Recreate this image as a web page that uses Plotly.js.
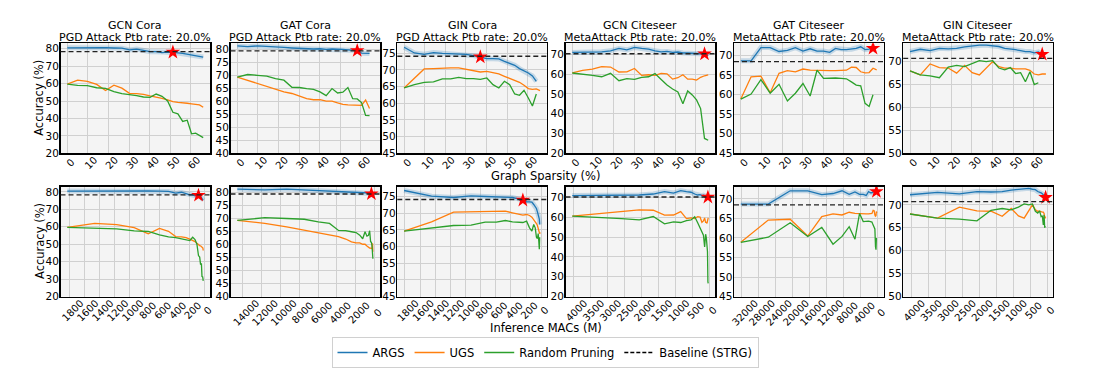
<!DOCTYPE html>
<html>
<head>
<meta charset="utf-8">
<script src="https://cdn.plot.ly/plotly-3.0.1.min.js"></script>
<style>html,body{margin:0;padding:0;background:#fff}#chart{width:1107px;height:372px}</style>
</head>
<body>
<div id="chart"></div>
<script>
// ---------------- data ----------------
const sparsity = [0,5,9.75,14.26,18.55,22.62,26.49,30.17,33.66,36.98,40.13,43.12,45.96,48.67,51.23,53.67,55.99,58.19,60.28,62.26,64.15,65.94];

const macsGcnCora = [1830,1464,1171,937,750,600,480,384,307,246,196,157,126,101,80,64,52,41,33,26,21,17];
const macsGatCora = [14600,11680,9344,7475,5980,4784,3827,3062,2449,1960,1568,1254,1003,803,642,514,411,329,263,210,168,135];
const macsGinCora = [1810,1448,1158,927,741,593,474,380,304,243,194,155,124,100,80,64,51,41,33,26,21,17];
const macsGcnCiteseer = [4030,3224,2579,2063,1651,1321,1056,845,676,541,433,346,277,222,177,142,113,91,73,58,46,37];
const macsGatCiteseer = [32200,25760,20608,16486,13189,10551,8441,6753,5402,4322,3457,2766,2213,1770,1416,1133,906,725,580,464,371,297];
const macsGinCiteseer = [4030,3224,2579,2063,1651,1321,1056,845,676,541,433,346,277,222,177,142,113,91,73,58,46,37];

const argsGcnCora = [80.5,80.6,80.3,80.6,80.6,80.4,80.3,79.3,79.8,79.0,78.3,78.3,77.8,78.0,78.0,77.6,77.3,76.8,76.5,76.2,75.8,75.2];
const ugsGcnCora  = [59.7,62.0,61.2,59.5,56.0,59.1,57.4,54.4,54.2,53.8,52.9,52.3,51.5,50.6,49.6,49.2,49.1,48.7,48.4,48.3,47.8,46.4];
const rpGcnCora   = [59.7,59.0,58.8,57.6,57.3,55.4,54.2,53.8,53.1,52.3,52.1,54.0,52.7,50.0,43.5,42.6,38.3,39.0,31.2,31.6,30.5,29.0];

const argsGatCora = [81.3,81.0,81.3,81.0,80.9,80.7,80.5,80.3,80.2,80.1,80.2,80.0,80.1,80.1,80.0,79.8,79.6,79.5,78.5,78.4,78.4];
const ugsGatCora  = [69.3,68.1,66.8,65.6,64.6,63.6,63.0,62.1,61.0,60.6,60.6,60.1,60.1,59.4,58.8,58.6,58.6,58.5,58.4,60.5,57.2];
const rpGatCora   = [69.3,70.3,70.0,69.7,68.7,68.1,65.4,65.3,64.9,64.6,63.6,62.2,64.9,63.2,63.5,65.3,61.0,60.9,59.5,54.6,54.5];

const argsGinCora = [76.8,75.1,74.7,75.2,75.0,74.9,74.6,74.7,74.3,73.9,73.4,73.4,73.3,72.6,72.0,71.4,70.4,69.7,69.1,68.2,66.6];
const ugsGinCora  = [64.6,67.4,70.3,70.4,70.6,70.6,70.6,70.1,69.8,69.4,69.6,69.3,68.8,68.1,67.5,66.9,66.3,65.4,64.4,64.2,64.3,63.8];
const rpGinCora   = [64.6,65.6,66.3,66.4,67.3,67.3,67.8,67.4,67.4,67.2,67.6,65.6,64.6,66.6,65.6,62.8,62.4,63.9,61.6,59.2,62.8];

const argsGcnCiteseer = [71.0,71.0,71.2,71.3,71.8,73.0,72.3,73.5,73.0,72.7,71.8,71.3,71.5,71.0,71.2,70.7,70.7,70.5,70.5,70.2,70.2,69.3];
const ugsGcnCiteseer  = [60.6,61.9,62.6,63.8,63.6,61.1,61.2,62.9,59.4,59.7,59.4,60.4,60.2,57.5,58.2,59.7,57.5,57.5,57.0,58.4,59.2,59.7];
const rpGcnCiteseer   = [60.6,60.1,59.4,58.7,60.4,56.7,57.7,57.4,58.4,58.7,60.3,57.3,54.5,52.5,51.0,45.0,51.5,49.5,47.0,42.6,27.5,26.6];

const argsGatCiteseer = [68.7,68.7,72.1,72.1,71.1,71.4,72.1,71.2,71.8,71.2,71.2,70.9,71.9,71.6,71.6,71.7,71.9,72.3,71.6,71.7,71.9];
const ugsGatCiteseer  = [58.9,64.6,64.8,60.5,65.5,66.2,65.9,66.6,66.3,66.2,66.2,66.2,66.2,66.2,66.3,67.1,67.0,65.9,65.6,65.7,66.8,66.4];
const rpGatCiteseer   = [58.9,60.2,63.9,60.4,62.7,58.4,60.4,62.9,59.7,66.3,64.2,64.3,64.3,64.2,64.1,63.3,62.5,62.3,57.8,57.0,60.0];

const argsGinCiteseer = [72.2,72.7,72.4,72.9,72.8,72.9,73.2,73.4,73.6,73.6,73.4,73.3,72.9,72.8,72.6,72.4,72.2,72.2,71.9,72.1,71.6];
const ugsGinCiteseer  = [68.0,67.1,69.5,68.7,68.6,67.5,69.2,67.6,67.1,68.6,70.0,68.9,68.6,68.6,68.4,68.4,68.4,68.1,67.3,67.1,67.3,67.3];
const rpGinCiteseer   = [68.0,67.1,66.9,66.5,68.8,69.2,68.9,69.5,70.2,70.0,70.2,68.6,68.2,68.7,67.4,67.6,65.6,67.8,65.0,65.4];

const baselines = [78.3, 79.4, 74.1, 70.3, 68.5, 70.7];
const starIndex = [14, 17, 9, 20, 20, 20];
const modelNames = ["GCN Cora","GAT Cora","GIN Cora","GCN Citeseer","GAT Citeseer","GIN Citeseer"];
const attackNames = ["PGD Attack Ptb rate: 20.0%","PGD Attack Ptb rate: 20.0%","PGD Attack Ptb rate: 20.0%","MetaAttack Ptb rate: 20.0%","MetaAttack Ptb rate: 20.0%","MetaAttack Ptb rate: 20.0%"];
const yRanges = [[20,83.1],[40,82.3],[45,78],[20,75.6],[45,73.2],[50,74]];
const yDticks = [10,5,5,10,5,5];
const macsDticks = [200,2000,200,500,4000,500];
const sparsityTicks = [0,10,20,30,40,50,60];
const seriesNames = ["ARGS","UGS","Random Pruning","Baseline (STRG)"];

const macsList = [macsGcnCora,macsGatCora,macsGinCora,macsGcnCiteseer,macsGatCiteseer,macsGinCiteseer];
const argsList = [argsGcnCora,argsGatCora,argsGinCora,argsGcnCiteseer,argsGatCiteseer,argsGinCiteseer];
const ugsList  = [ugsGcnCora,ugsGatCora,ugsGinCora,ugsGcnCiteseer,ugsGatCiteseer,ugsGinCiteseer];
const rpList   = [rpGcnCora,rpGatCora,rpGinCora,rpGcnCiteseer,rpGatCiteseer,rpGinCiteseer];

// ---------------- styling / layout ----------------
const W = 1107, H = 372;
const colLeft = [60.5, 230.5, 397.3, 565.5, 734.0, 903.2];
const colW = 149.5;
const rowTop = [43.3, 186.5];
const rowH = 110;
const FONT = "DejaVu Sans";
const TICK_SIZE = 10;
const C_ARGS = "#1f77b4", C_UGS = "#ff7f0e", C_RP = "#2ca02c";
const NBSP = "\u00a0";

const traces = [];
const shapes = [];
const annotations = [];
const layout = {
  width: W, height: H, autosize: false,
  margin: {l:0, r:0, t:0, b:0},
  paper_bgcolor: "white", plot_bgcolor: "rgba(0,0,0,0)",
  font: {family: FONT, size: 10.5, color: "black"},
  showlegend: true,
  legend: {orientation: "h", x: 545/W, xanchor: "center", y: 1 - 337/H, yanchor: "top",
           bordercolor: "#d0d0d0", borderwidth: 1, bgcolor: "white",
           font: {family: FONT, size: 11.5, color: "black"}, traceorder: "normal",
           itemwidth: 30, tracegroupgap: 0}
};

function sub(arr, n) { return arr.slice(0, n); }
function baseAxis() {
  return {showline: true, linecolor: "black", linewidth: 1.5, mirror: true,
          ticks: "", showgrid: true, gridcolor: "#d0d0d0", gridwidth: 1, zeroline: false,
          exponentformat: "none",
          tickfont: {family: FONT, size: TICK_SIZE, color: "black"}, fixedrange: true};
}

for (let row = 0; row < 2; row++) {
  for (let p = 0; p < 6; p++) {
    const n = row * 6 + p + 1;
    const xa = "x" + (n === 1 ? "" : n), ya = "y" + (n === 1 ? "" : n);
    const la = "x" + (n + 12), lya = "y" + (n + 12);
    const xKey = "xaxis" + (n === 1 ? "" : n), yKey = "yaxis" + (n === 1 ? "" : n);
    const lKey = "xaxis" + (n + 12), lyKey = "yaxis" + (n + 12);
    const xsrc = row === 0 ? sparsity : macsList[p];
    const a = argsList[p], u = ugsList[p], r = rpList[p];
    const first = (row === 0 && p === 0);

    traces.push({x: sub(xsrc, a.length), y: a, xaxis: xa, yaxis: ya, mode: "lines",
      line: {color: "rgba(31,119,180,0.22)", width: 5}, showlegend: false, hoverinfo: "skip"});
    traces.push({x: sub(xsrc, a.length), y: a, xaxis: xa, yaxis: ya, mode: "lines", name: seriesNames[0],
      line: {color: C_ARGS, width: 1.3}, showlegend: first, legendgroup: "a"});
    traces.push({x: sub(xsrc, u.length), y: u, xaxis: xa, yaxis: ya, mode: "lines", name: seriesNames[1],
      line: {color: C_UGS, width: 1.3}, showlegend: first, legendgroup: "u"});
    traces.push({x: sub(xsrc, r.length), y: r, xaxis: xa, yaxis: ya, mode: "lines", name: seriesNames[2],
      line: {color: C_RP, width: 1.3}, showlegend: first, legendgroup: "r"});
    if (first) {
      traces.push({x: [null], y: [null], xaxis: xa, yaxis: ya, mode: "lines", name: seriesNames[3],
        line: {color: "black", width: 1.3, dash: "4px,2px"}, showlegend: true, legendgroup: "b"});
    }
    const si = starIndex[p];
    traces.push({x: [xsrc[si]], y: [a[si]], xaxis: xa, yaxis: ya, mode: "markers",
      marker: {symbol: "star", size: 11, color: "red", line: {width: 0}}, showlegend: false, hoverinfo: "skip"});
    // empty trace so the label-only axis (with its own hidden y axis) gets drawn
    traces.push({x: [null], y: [null], xaxis: la, yaxis: lya, mode: "lines", showlegend: false, hoverinfo: "skip"});

    shapes.push({type: "rect", xref: xa + " domain", yref: ya + " domain", x0: 0, x1: 1, y0: 0, y1: 1,
      layer: "below", fillcolor: "#f4f4f4", line: {width: 0}});
    shapes.push({type: "line", xref: xa + " domain", yref: ya, x0: 0, x1: 1,
      y0: baselines[p], y1: baselines[p], layer: "above",
      line: {color: "#222", width: 1.4, dash: "5px,3px"}});

    let range, tickvals;
    if (row === 0) {
      const d = xsrc[xsrc.length - 1] - xsrc[0];
      range = [xsrc[0] - 0.05 * d, xsrc[xsrc.length - 1] + 0.05 * d];
      tickvals = sparsityTicks.slice();
    } else {
      const mx = Math.max(...xsrc), mn = Math.min(...xsrc), d = mx - mn;
      range = [mx + 0.05 * d, mn - 0.05 * d];
      tickvals = [];
      for (let v = 0; v <= range[0]; v += macsDticks[p]) tickvals.push(v);
    }
    const labels = tickvals.map(String);
    const maxLen = Math.max(...labels.map(s => s.length));
    const ticktext = labels.map(s => s + NBSP.repeat(maxLen - s.length));
    const shiftPx = 2 + maxLen * 2.3;

    const x0 = colLeft[p] / W, x1 = (colLeft[p] + colW) / W;
    const yb = 1 - (rowTop[row] + rowH) / H, yt = 1 - rowTop[row] / H;

    const xax = baseAxis();
    xax.domain = [x0, x1];
    xax.anchor = ya;
    xax.range = range;
    xax.tickmode = "array";
    xax.tickvals = tickvals;
    xax.showticklabels = false;
    layout[xKey] = xax;

    layout[lKey] = {domain: [x0 + shiftPx / W, x1 + shiftPx / W], anchor: "free",
      position: yb + 2 / H, range: range, tickmode: "array", tickvals: tickvals, ticktext: ticktext,
      tickangle: -45, showline: false, showgrid: false, zeroline: false, ticks: "",
      tickfont: {family: FONT, size: TICK_SIZE, color: "black"}, fixedrange: true};
    layout[lyKey] = {domain: [yb, yt], anchor: la, visible: false, showgrid: false,
      zeroline: false, range: [0, 1], fixedrange: true};

    const yax = baseAxis();
    yax.domain = [yb, yt];
    yax.anchor = xa;
    yax.range = yRanges[p];
    yax.tickmode = "linear";
    yax.tick0 = 0;
    yax.dtick = yDticks[p];
    yax.tickfont = {family: FONT, size: 10.5, color: "black"};
    yax.ticklabelstandoff = -2;
    layout[yKey] = yax;

    if (row === 0) {
      const cx = (colLeft[p] + colW / 2) / W;
      annotations.push({text: modelNames[p], xref: "paper", yref: "paper", x: cx, y: 1 - 26 / H,
        xanchor: "center", yanchor: "middle", showarrow: false, font: {family: FONT, size: 11, color: "black"}});
      annotations.push({text: attackNames[p], xref: "paper", yref: "paper", x: cx, y: 1 - 37.5 / H,
        xanchor: "center", yanchor: "middle", showarrow: false, font: {family: FONT, size: 11, color: "black"}});
    }
  }
  annotations.push({text: "Accuracy (%)", xref: "paper", yref: "paper", x: 39.5 / W,
    y: 1 - (rowTop[row] + rowH / 2) / H, textangle: -90, xanchor: "center", yanchor: "middle",
    showarrow: false, font: {family: FONT, size: 11.5, color: "black"}});
}
annotations.push({text: "Graph Sparsity (%)", xref: "paper", yref: "paper", x: 545.5 / W, y: 1 - 176 / H,
  xanchor: "center", yanchor: "middle", showarrow: false, font: {family: FONT, size: 11.5, color: "black"}});
annotations.push({text: "Inference MACs (M)", xref: "paper", yref: "paper", x: 545.5 / W, y: 1 - 328 / H,
  xanchor: "center", yanchor: "middle", showarrow: false, font: {family: FONT, size: 11.5, color: "black"}});

layout.shapes = shapes;
layout.annotations = annotations;

Plotly.newPlot("chart", traces, layout, {staticPlot: true, displayModeBar: false});
</script>
</body>
</html>
